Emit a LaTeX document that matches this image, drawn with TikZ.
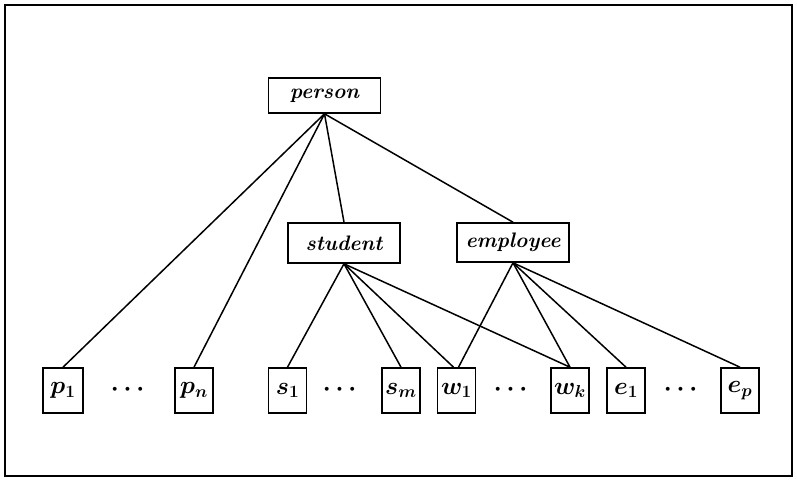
\documentclass[tikz,border=0pt]{standalone}
\usepackage{amsmath}
\begin{document}
\begin{tikzpicture}[x=1pt,y=-1pt,
  classbox/.style={draw, rectangle, line width=1.6pt, inner sep=0pt,
    minimum width=112pt, minimum height=37pt,
    font=\fontsize{21}{24}\selectfont\bfseries\itshape},
  leafbox/.style={draw, rectangle, line width=1.6pt, inner sep=0pt,
    minimum width=38pt, minimum height=45pt,
    font=\fontsize{24}{28}\selectfont\boldmath},
  dotsnode/.style={inner sep=0pt, font=\fontsize{26}{30}\selectfont\boldmath},
  link/.style={line width=1.5pt}]
\useasboundingbox (0,0) rectangle (797,481);
\draw[line width=1.8pt] (5,5) rectangle (792,476);

\node[classbox, minimum height=35pt] (person) at (324.5,95.5) {person};
\node[classbox, minimum height=40pt] (student) at (344,243) {student};
\node[classbox, minimum height=39pt] (employee) at (513,242.5) {employee};

\node[leafbox, minimum width=40pt] (p1) at (63,390.5) {$p_1$};
\node[leafbox] (pn) at (194,390.5) {$p_n$};
\node[leafbox] (s1) at (287.5,390.5) {$s_1$};
\node[leafbox] (sm) at (401,390.5) {$s_m$};
\node[leafbox] (w1) at (456.5,390.5) {$w_1$};
\node[leafbox] (wk) at (570,390.5) {$w_k$};
\node[leafbox] (e1) at (626,390.5) {$e_1$};
\node[leafbox] (ep) at (740,390.5) {$e_p$};

\node[dotsnode] (d1) at (130,390) {$\cdots$};
\node[dotsnode] (d2) at (342,390) {$\cdots$};
\node[dotsnode] (d3) at (513,390) {$\cdots$};
\node[dotsnode] (d4) at (683,390) {$\cdots$};

\draw[link] (person.south) -- (p1.north);
\draw[link] (person.south) -- (pn.north);
\draw[link] (person.south) -- (student.north);
\draw[link] (person.south) -- (employee.north);

\draw[link] (student.south) -- (s1.north);
\draw[link] (student.south) -- (sm.north);
\draw[link] (student.south) -- ([xshift=-3pt]w1.north);
\draw[link] (student.south) -- (wk.north);

\draw[link] (employee.south) -- ([xshift=2pt]w1.north);
\draw[link] (employee.south) -- (wk.north);
\draw[link] (employee.south) -- (e1.north);
\draw[link] (employee.south) -- (ep.north);
\end{tikzpicture}
\end{document}
